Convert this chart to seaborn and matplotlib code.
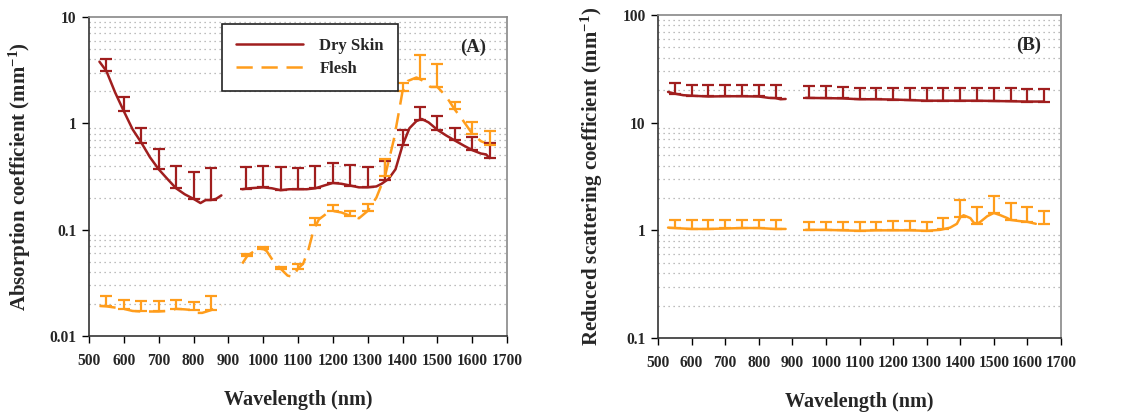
import numpy as np
import pandas as pd
import matplotlib
matplotlib.use("Agg")
import matplotlib.pyplot as plt
import seaborn as sns
from matplotlib.ticker import LogLocator, FuncFormatter, NullFormatter
from matplotlib.lines import Line2D

# ---------------- data ----------------
# Panel A: absorption coefficient (mm^-1)
skin_a_wl1 = [530, 550, 575, 600, 625, 650, 675, 700, 725, 750, 775, 800, 820, 835, 850, 865, 880]
skin_a_mu1 = [3.8, 3.1, 1.95, 1.3, 0.88, 0.66, 0.48, 0.37, 0.30, 0.245, 0.215, 0.195, 0.178, 0.19, 0.19, 0.195, 0.21]
skin_a_wl2 = [940, 960, 1000, 1025, 1050, 1075, 1100, 1125, 1150, 1175, 1200, 1225, 1250, 1275, 1300, 1325, 1340, 1360,
              1380, 1400, 1420, 1440, 1455, 1475, 1500, 1525, 1550, 1575, 1600, 1625, 1640, 1650]
skin_a_mu2 = [0.24, 0.245, 0.25, 0.245, 0.235, 0.24, 0.24, 0.24, 0.245, 0.26, 0.275, 0.27, 0.26, 0.25, 0.25, 0.255, 0.27, 0.30,
              0.37, 0.62, 0.9, 1.05, 1.1, 1.02, 0.87, 0.77, 0.69, 0.62, 0.56, 0.52, 0.51, 0.47]
skin_a_err_wl = [550, 600, 650, 700, 750, 800, 850, 950, 1000, 1050, 1100, 1150, 1200, 1250, 1300, 1350, 1400, 1450, 1500, 1550, 1600, 1650]
skin_a_err_base = [3.1, 1.3, 0.66, 0.37, 0.245, 0.195, 0.19, 0.24, 0.25, 0.235, 0.24, 0.245, 0.275, 0.26, 0.25, 0.29, 0.62, 1.08, 0.87, 0.69, 0.56, 0.47]
skin_a_err_top = [4.0, 1.76, 0.91, 0.57, 0.40, 0.35, 0.38, 0.39, 0.40, 0.39, 0.38, 0.40, 0.42, 0.41, 0.39, 0.44, 0.86, 1.41, 1.16, 0.90, 0.75, 0.65]

flesh_a_wl1 = [530, 550, 575, 600, 625, 650, 675, 700, 725, 750, 775, 800, 810, 825, 850, 880]
flesh_a_mu1 = [0.0192, 0.019, 0.0185, 0.018, 0.0172, 0.017, 0.017, 0.017, 0.0172, 0.018, 0.0178, 0.0175, 0.0165, 0.0165, 0.0175, 0.0195]
flesh_a_wl2 = [940, 955, 975, 1000, 1010, 1030, 1050, 1070, 1085, 1100, 1115, 1130, 1145, 1160, 1180, 1200, 1225, 1250,
               1275, 1300, 1325, 1350, 1375, 1390, 1400, 1415, 1440, 1450, 1460, 1480, 1500, 1525, 1550, 1575, 1600, 1625, 1650]
flesh_a_mu2 = [0.048, 0.057, 0.063, 0.066, 0.063, 0.05, 0.043, 0.037, 0.036, 0.043, 0.048, 0.065, 0.10, 0.125, 0.14, 0.15, 0.145, 0.135,
               0.128, 0.15, 0.2, 0.32, 0.7, 1.3, 2.0, 2.5, 2.7, 2.6, 2.5, 2.2, 2.2, 1.8, 1.35, 1.05, 0.8, 0.68, 0.63]
flesh_a_err_wl = [550, 600, 650, 700, 750, 800, 850, 955, 1000, 1050, 1100, 1150, 1200, 1250, 1300, 1350, 1400, 1450, 1500, 1550, 1600, 1650]
flesh_a_err_base = [0.019, 0.018, 0.017, 0.017, 0.018, 0.0175, 0.0175, 0.057, 0.066, 0.043, 0.043, 0.11, 0.15, 0.135, 0.15, 0.32, 2.0, 2.6, 2.2, 1.35, 0.8, 0.63]
flesh_a_err_top = [0.0238, 0.022, 0.0213, 0.0213, 0.022, 0.021, 0.0237, 0.059, 0.068, 0.045, 0.048, 0.128, 0.17, 0.15, 0.175, 0.46, 2.4, 4.4, 3.6, 1.6, 1.02, 0.84]

# Panel B: reduced scattering coefficient (mm^-1)
skin_b_wl1 = [530, 550, 575, 600, 650, 700, 750, 800, 830, 850, 865, 880]
skin_b_mu1 = [19.3, 18.6, 18.0, 17.8, 17.5, 17.6, 17.6, 17.5, 17.0, 16.9, 16.5, 16.6]
skin_b_wl2 = [940, 1000, 1050, 1100, 1150, 1200, 1250, 1300, 1350, 1400, 1450, 1500, 1550, 1600, 1650]
skin_b_mu2 = [17.0, 16.9, 16.8, 16.5, 16.5, 16.4, 16.2, 16.0, 16.0, 16.0, 16.0, 15.9, 15.8, 15.7, 15.7]
skin_b_err_wl = [550, 600, 650, 700, 750, 800, 850, 950, 1000, 1050, 1100, 1150, 1200, 1250, 1300, 1350, 1400, 1450, 1500, 1550, 1600, 1650]
skin_b_err_base = [18.6, 17.8, 17.5, 17.6, 17.6, 17.5, 16.9, 17.0, 16.9, 16.8, 16.5, 16.5, 16.4, 16.2, 16.0, 16.0, 16.0, 16.0, 15.9, 15.8, 15.7, 15.7]
skin_b_err_top = [23.5, 22.4, 22.4, 22.4, 22.4, 22.4, 22.4, 21.8, 21.8, 21.6, 21.1, 21.1, 21.1, 21.1, 21.0, 21.0, 21.0, 21.0, 21.0, 20.8, 20.6, 20.5]

flesh_b_wl1 = [530, 550, 600, 650, 700, 750, 800, 850, 880]
flesh_b_mu1 = [1.06, 1.05, 1.03, 1.03, 1.04, 1.05, 1.05, 1.03, 1.03]
flesh_b_wl2 = [940, 1000, 1050, 1100, 1150, 1200, 1250, 1300, 1340, 1370, 1390, 1400, 1410, 1430, 1440, 1450,
               1460, 1480, 1500, 1520, 1540, 1550, 1575, 1600, 1625]
flesh_b_mu2 = [1.01, 1.01, 1.0, 0.99, 1.0, 1.0, 1.0, 0.99, 1.01, 1.06, 1.15, 1.32, 1.38, 1.3, 1.18, 1.15,
               1.2, 1.35, 1.45, 1.38, 1.3, 1.25, 1.22, 1.2, 1.15]
flesh_b_wl3 = [1650]
flesh_b_mu3 = [1.15]
flesh_b_err_wl = [550, 600, 650, 700, 750, 800, 850, 950, 1000, 1050, 1100, 1150, 1200, 1250, 1300, 1350, 1400, 1450, 1500, 1550, 1600, 1650]
flesh_b_err_base = [1.05, 1.03, 1.03, 1.04, 1.05, 1.05, 1.03, 1.01, 1.01, 1.0, 0.99, 1.0, 1.0, 1.0, 0.99, 1.03, 1.32, 1.15, 1.45, 1.25, 1.2, 1.15]
flesh_b_err_top = [1.26, 1.24, 1.24, 1.25, 1.26, 1.26, 1.25, 1.2, 1.2, 1.2, 1.2, 1.2, 1.21, 1.21, 1.2, 1.3, 1.9, 1.65, 2.1, 1.78, 1.65, 1.52]

labels = ["Dry Skin", "Flesh"]
c_skin = "#a01e1e"
c_flesh = "#ff9d1c"

# ---------------- style ----------------
sns.set_theme(style="white")
plt.rcParams["font.family"] = ["Liberation Serif", "DejaVu Serif"]
plt.rcParams["font.weight"] = "bold"
plt.rcParams["mathtext.fontset"] = "custom"
plt.rcParams["mathtext.rm"] = "Liberation Serif:bold"
plt.rcParams["mathtext.bf"] = "Liberation Serif:bold"
plt.rcParams["mathtext.default"] = "bf"


def make_df(segments):
    rows = []
    for name, seg_id, wl, mu in segments:
        for w, m in zip(wl, mu):
            rows.append({"wavelength": w, "value": m, "tissue": name, "segment": seg_id})
    return pd.DataFrame(rows)


dfA = make_df([
    ("Dry Skin", 0, skin_a_wl1, skin_a_mu1),
    ("Dry Skin", 1, skin_a_wl2, skin_a_mu2),
    ("Flesh", 2, flesh_a_wl1, flesh_a_mu1),
    ("Flesh", 3, flesh_a_wl2, flesh_a_mu2),
])
dfB = make_df([
    ("Dry Skin", 0, skin_b_wl1, skin_b_mu1),
    ("Dry Skin", 1, skin_b_wl2, skin_b_mu2),
    ("Flesh", 2, flesh_b_wl1, flesh_b_mu1),
    ("Flesh", 3, flesh_b_wl2, flesh_b_mu2),
    ("Flesh", 4, flesh_b_wl3, flesh_b_mu3),
])

W, H = 1132, 417
fig = plt.figure(figsize=(W / 100, H / 100), dpi=100)
axA = fig.add_axes([89 / W, 1 - 336 / H, 418 / W, 319 / H])
axB = fig.add_axes([658 / W, 1 - 338 / H, 403 / W, 323 / H])

palette = {"Dry Skin": c_skin, "Flesh": c_flesh}
DASH = (6.5, 3.5)

sns.lineplot(data=dfA, x="wavelength", y="value", hue="tissue", style="tissue", units="segment",
             estimator=None, palette=palette, dashes={"Dry Skin": "", "Flesh": DASH},
             linewidth=1.8, ax=axA, legend=False, sort=False)
sns.lineplot(data=dfB, x="wavelength", y="value", hue="tissue", units="segment",
             estimator=None, palette=palette, linewidth=1.8, ax=axB, legend=False, sort=False)


def err(ax, wl, base, top, color):
    base = np.array(base)
    top = np.array(top)
    ax.errorbar(wl, base, yerr=[np.zeros_like(base), top - base], fmt="none", ecolor=color,
                elinewidth=1.6, capsize=4.5, capthick=1.6)


err(axA, skin_a_err_wl, skin_a_err_base, skin_a_err_top, c_skin)
err(axA, flesh_a_err_wl, flesh_a_err_base, flesh_a_err_top, c_flesh)
err(axB, skin_b_err_wl, skin_b_err_base, skin_b_err_top, c_skin)
err(axB, flesh_b_err_wl, flesh_b_err_base, flesh_b_err_top, c_flesh)

fmt = FuncFormatter(lambda v, p: "%g" % v)
for ax, (ylo, yhi), ylab, tag in [
    (axA, (0.01, 10), r"Absorption coefficient (mm$^{-1}$)", "(A)"),
    (axB, (0.1, 100), r"Reduced scattering coefficient (mm$^{-1}$)", "(B)"),
]:
    ax.set_yscale("log")
    ax.set_ylim(ylo, yhi)
    ax.set_xlim(500, 1700)
    ax.set_xticks(np.arange(500, 1701, 100))
    ax.yaxis.set_major_locator(LogLocator(base=10, numticks=10))
    ax.yaxis.set_minor_locator(LogLocator(base=10, subs=np.arange(2, 10), numticks=20))
    ax.yaxis.set_major_formatter(fmt)
    ax.yaxis.set_minor_formatter(NullFormatter())
    ax.grid(False)
    ax.grid(True, which="minor", axis="y", linestyle=(0, (1, 3)), color="#a8a8a8", linewidth=0.9)
    ax.tick_params(axis="both", which="major", direction="out", length=5, width=1, color="black",
                   labelsize=11.2, bottom=True, left=True)
    ax.tick_params(axis="x", which="major", pad=7)
    ax.tick_params(axis="y", which="major", pad=4)
    ax.tick_params(axis="y", which="minor", length=0)
    for lab in ax.get_xticklabels() + ax.get_yticklabels():
        lab.set_fontweight("bold")
    for s in ["left", "bottom"]:
        ax.spines[s].set_color("#333333")
        ax.spines[s].set_linewidth(1.2)
    for s in ["top", "right"]:
        ax.spines[s].set_color("#888888")
        ax.spines[s].set_linewidth(1.2)
    ax.set_xlabel("Wavelength (nm)", fontsize=14.5, fontweight="bold")
    ax.set_ylabel(ylab, fontsize=15, fontweight="bold")
    ax.text(0.919, 0.905, tag, transform=ax.transAxes, fontsize=13.5, fontweight="bold",
            ha="center", va="center")

axA.xaxis.set_label_coords(0.5, -0.168)
axA.yaxis.set_label_coords(-0.134, 0.5)
axB.xaxis.set_label_coords(0.5, -0.167)
axB.yaxis.set_label_coords(-0.131, 0.5)

handles = [Line2D([], [], color=c_skin, lw=1.8),
           Line2D([], [], color=c_flesh, lw=1.8, dashes=DASH)]
leg = axA.legend(handles, labels, loc="upper left", bbox_to_anchor=(0.318, 0.978),
                 frameon=True, fancybox=False, framealpha=1, edgecolor="#222222",
                 handlelength=4.0, handletextpad=1.0, labelspacing=0.4, borderpad=0.85,
                 borderaxespad=0, prop={"weight": "bold", "size": 12})
leg.get_frame().set_linewidth(1.2)

fig.savefig("out.png", dpi=100)
